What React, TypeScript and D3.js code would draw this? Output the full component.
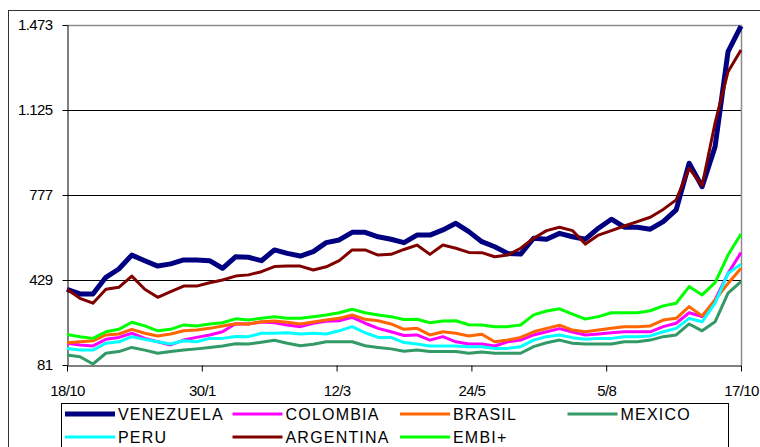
import * as d3 from "d3";
import { useEffect, useRef } from "react";

// weekly spreads (bps), 18/10 -> 17/10
const venezuela = [391, 372, 372, 440, 474, 531, 508, 486, 495, 511, 511, 508, 477, 524, 522, 508, 552, 538, 527, 545, 582, 593, 624, 624, 606, 596, 582, 613, 613, 634, 661, 627, 586, 565, 538, 535, 600, 596, 620, 606, 596, 641, 678, 645, 645, 637, 668, 716, 907, 811, 975, 1364, 1468];
const colombia = [170, 163, 159, 186, 194, 211, 190, 176, 163, 183, 194, 204, 217, 250, 249, 257, 254, 245, 238, 252, 260, 262, 276, 252, 231, 217, 202, 204, 183, 197, 176, 167, 167, 159, 176, 183, 204, 217, 230, 216, 204, 208, 213, 217, 217, 217, 238, 252, 295, 279, 347, 456, 541];
const brasil = [172, 176, 180, 204, 208, 227, 211, 200, 208, 221, 224, 231, 241, 250, 249, 258, 261, 256, 249, 257, 265, 272, 286, 268, 262, 249, 227, 231, 204, 217, 211, 200, 207, 176, 183, 194, 217, 231, 244, 224, 217, 224, 231, 238, 238, 241, 265, 272, 320, 282, 347, 415, 477];
const mexico = [122, 115, 85, 129, 136, 153, 142, 129, 136, 142, 147, 153, 159, 168, 167, 174, 182, 170, 160, 166, 176, 176, 176, 160, 153, 147, 137, 142, 136, 136, 136, 129, 134, 129, 129, 129, 156, 172, 183, 170, 167, 167, 167, 176, 176, 183, 197, 204, 249, 221, 258, 375, 422];
const peru = [149, 142, 142, 170, 176, 197, 186, 176, 167, 180, 176, 190, 190, 198, 197, 211, 211, 213, 208, 211, 208, 221, 238, 213, 194, 194, 173, 167, 159, 159, 159, 156, 156, 149, 149, 156, 183, 197, 204, 193, 186, 190, 190, 197, 197, 200, 217, 231, 272, 258, 334, 456, 494];
const argentina = [391, 354, 334, 391, 399, 445, 391, 358, 381, 404, 404, 418, 429, 445, 450, 463, 484, 486, 486, 470, 483, 508, 552, 552, 531, 534, 554, 572, 534, 572, 559, 542, 541, 524, 531, 559, 600, 631, 645, 631, 576, 613, 631, 650, 668, 686, 718, 757, 886, 816, 1072, 1282, 1371];
const embi = [206, 197, 190, 217, 227, 256, 241, 221, 227, 245, 241, 249, 254, 270, 265, 272, 279, 272, 272, 279, 286, 295, 309, 295, 286, 279, 267, 268, 254, 261, 262, 246, 245, 238, 238, 245, 286, 302, 311, 289, 269, 279, 295, 295, 295, 303, 323, 334, 402, 368, 418, 531, 617];

const xTickLabels = ["18/10", "30/1", "12/3", "24/5", "5/8", "17/10"];
const yTicks = [81, 429, 777, 1125, 1473];

const series = [
  { name: "VENEZUELA", values: venezuela, color: "#000080", width: 5 },
  { name: "COLOMBIA", values: colombia, color: "#ff00ff", width: 3 },
  { name: "BRASIL", values: brasil, color: "#ff6600", width: 3 },
  { name: "MEXICO", values: mexico, color: "#339966", width: 3 },
  { name: "PERU", values: peru, color: "#00ffff", width: 3 },
  { name: "ARGENTINA", values: argentina, color: "#800000", width: 3 },
  { name: "EMBI+", values: embi, color: "#00ff00", width: 3 },
];

const fmt = (v: number) => d3.format(",")(v).replace(",", ".");

function chart() {
  const width = 760;
  const height = 447;
  const left = 67, right = 741, top = 25, bottom = 365;
  const n = venezuela.length - 1;

  const x = d3.scaleLinear().domain([0, n]).range([left, right]);
  const y = d3.scaleLinear().domain([81, 1473]).range([bottom, top]);

  const svg = d3.create("svg")
      .attr("width", width)
      .attr("height", height)
      .attr("viewBox", [0, 0, width, height])
      .attr("style", "position:absolute;left:0;top:0;background:#fff;font-family:'Liberation Sans',Arial,sans-serif;");

  // chart frame
  svg.append("rect")
      .attr("x", 8.5).attr("y", 10.5)
      .attr("width", 800).attr("height", 500)
      .attr("fill", "#fff").attr("stroke", "#333");

  // gridlines
  svg.append("g")
      .attr("stroke", "#000")
    .selectAll()
    .data(yTicks.slice(1, -1))
    .join("line")
      .attr("x1", left).attr("x2", right)
      .attr("y1", d => Math.round(y(d)) + 0.5)
      .attr("y2", d => Math.round(y(d)) + 0.5);

  // plot border top / right
  svg.append("path")
      .attr("fill", "none")
      .attr("stroke", "#8c8c8c")
      .attr("stroke-width", 1.5)
      .attr("d", `M${left},${y(1473) + 0.5}H${right + 0.5}V${bottom}`);

  // y axis
  const yAxis = svg.append("g")
      .attr("transform", `translate(${left + 0.5},0)`)
      .call(d3.axisLeft(y).tickValues(yTicks).tickSize(5).tickSizeOuter(0).tickFormat(d => fmt(d as number)));
  yAxis.select(".domain").attr("stroke", "#000");
  yAxis.selectAll(".tick line").attr("stroke", "#000");
  yAxis.selectAll(".tick text")
      .attr("x", -15)
      .attr("font-size", 15)
      .attr("font-family", "'Liberation Sans',Arial,sans-serif")
      .attr("letter-spacing", -0.6)
      .attr("fill", "#000");

  // x axis
  const xTicks = xTickLabels.map((_, i) => (i * n) / (xTickLabels.length - 1));
  const xAxis = svg.append("g")
      .attr("transform", `translate(0,${bottom + 0.5})`)
      .call(d3.axisBottom(x).tickValues(xTicks).tickSize(6).tickSizeOuter(0).tickFormat((_, i) => xTickLabels[i]));
  xAxis.select(".domain").attr("stroke", "#000");
  xAxis.selectAll(".tick line").attr("stroke", "#000");
  xAxis.selectAll(".tick text")
      .attr("y", 20)
      .attr("font-size", 15)
      .attr("font-family", "'Liberation Sans',Arial,sans-serif")
      .attr("letter-spacing", -0.6)
      .attr("fill", "#000");

  // series lines
  const line = d3.line<number>()
      .x((_, i) => x(i))
      .y(d => y(d));

  svg.append("g")
      .attr("fill", "none")
      .attr("stroke-linejoin", "round")
    .selectAll()
    .data(series)
    .join("path")
      .attr("stroke", d => d.color)
      .attr("stroke-width", d => d.width)
      .attr("d", d => line(d.values));

  // legend
  const legend = svg.append("g");
  legend.append("rect")
      .attr("x", 61.5).attr("y", 403.5)
      .attr("width", 667).attr("height", 80)
      .attr("fill", "#fff").attr("stroke", "#000");

  const item = legend.selectAll("g.item")
    .data(series)
    .join("g")
      .attr("class", "item")
      .attr("transform", (_, i) => `translate(${65 + (i % 4) * 167.5},${414 + Math.floor(i / 4) * 23})`);

  item.append("line")
      .attr("x1", 0).attr("x2", 50)
      .attr("stroke", d => d.color)
      .attr("stroke-width", d => d.width);

  item.append("text")
      .attr("x", 53)
      .attr("y", 6)
      .attr("font-size", 16)
      .attr("letter-spacing", 1.2)
      .attr("fill", "#000")
      .text(d => d.name);

  return svg.node();
}

export default function App() {
  const ref = useRef<HTMLDivElement | null>(null);
  useEffect(() => {
    if (ref.current) {
      ref.current.innerHTML = "";
      const node = chart();
      if (node) ref.current.appendChild(node);
    }
  }, []);
  return <div ref={ref} />;
}
